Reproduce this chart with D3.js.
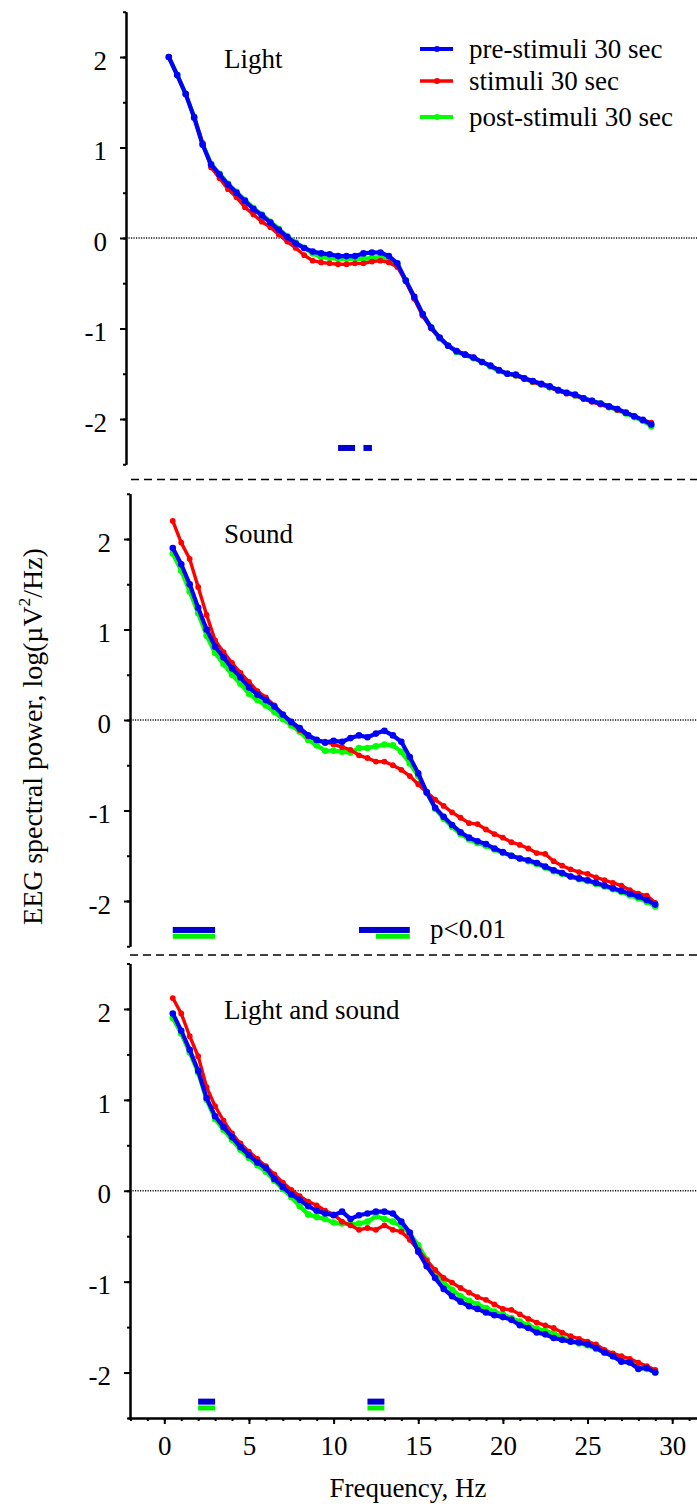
<!DOCTYPE html>
<html>
<head>
<meta charset="utf-8">
<script src="https://cdn.jsdelivr.net/npm/d3@7"></script>
<style>
body { margin: 0; background: #fff; }
svg { display: block; }
</style>
</head>
<body>
<svg id="chart" width="697" height="1504"></svg>
<script>
// frequency grid, Hz
const freqs = [0.5,1,1.5,2,2.5,3,3.5,4,4.5,5,5.5,6,6.5,7,7.5,8,8.5,9,9.5,10,
	10.5,11,11.5,12,12.5,13,13.5,14,14.5,15,15.5,16,16.5,17,17.5,18,18.5,19,19.5,20,
	20.5,21,21.5,22,22.5,23,23.5,24,24.5,25,25.5,26,26.5,27,27.5,28,28.5,29];

const seriesNames = ['pre-stimuli 30 sec', 'stimuli 30 sec', 'post-stimuli 30 sec'];
const panelTitles = ['Light', 'Sound', 'Light and sound'];

// log power, Light
const lightPre = [2.00,1.80,1.59,1.33,1.03,0.81,0.70,0.59,0.50,0.41,0.32,0.25,0.17,0.09,0.01,-0.06,-0.11,-0.15,-0.17,-0.18,
	-0.20,-0.20,-0.20,-0.17,-0.16,-0.16,-0.20,-0.28,-0.47,-0.65,-0.84,-0.99,-1.10,-1.19,-1.25,-1.29,-1.32,-1.37,-1.41,-1.46,
	-1.50,-1.51,-1.55,-1.58,-1.61,-1.64,-1.68,-1.71,-1.73,-1.77,-1.80,-1.83,-1.86,-1.89,-1.93,-1.97,-2.01,-2.06];
const lightStim = [2.00,1.80,1.59,1.34,1.05,0.78,0.66,0.54,0.45,0.34,0.26,0.18,0.12,0.04,-0.04,-0.11,-0.19,-0.25,-0.27,-0.28,
	-0.29,-0.29,-0.28,-0.28,-0.26,-0.25,-0.27,-0.32,-0.48,-0.67,-0.86,-1.00,-1.10,-1.19,-1.25,-1.28,-1.32,-1.37,-1.41,-1.46,
	-1.50,-1.52,-1.56,-1.59,-1.62,-1.65,-1.69,-1.72,-1.74,-1.78,-1.81,-1.84,-1.87,-1.90,-1.93,-1.97,-2.01,-2.04];
const lightPost = [2.00,1.80,1.59,1.34,1.04,0.82,0.71,0.60,0.51,0.42,0.33,0.26,0.18,0.10,0.02,-0.05,-0.11,-0.17,-0.21,-0.22,
	-0.23,-0.23,-0.23,-0.23,-0.22,-0.21,-0.23,-0.30,-0.47,-0.66,-0.85,-0.99,-1.11,-1.19,-1.26,-1.29,-1.33,-1.37,-1.42,-1.47,
	-1.50,-1.52,-1.55,-1.59,-1.62,-1.65,-1.68,-1.71,-1.74,-1.77,-1.80,-1.83,-1.87,-1.90,-1.94,-1.98,-2.02,-2.08];

// log power, Sound
const soundPre = [1.90,1.72,1.50,1.24,1.00,0.81,0.69,0.57,0.47,0.36,0.28,0.22,0.15,0.06,-0.02,-0.09,-0.17,-0.22,-0.25,-0.23,
	-0.24,-0.20,-0.17,-0.19,-0.15,-0.12,-0.17,-0.24,-0.41,-0.59,-0.80,-0.97,-1.07,-1.16,-1.24,-1.30,-1.34,-1.37,-1.42,-1.46,
	-1.50,-1.53,-1.55,-1.58,-1.62,-1.66,-1.69,-1.73,-1.75,-1.77,-1.80,-1.83,-1.86,-1.89,-1.92,-1.95,-1.99,-2.04];
const soundStim = [2.20,1.96,1.78,1.47,1.16,0.88,0.75,0.63,0.52,0.42,0.32,0.25,0.16,0.06,-0.03,-0.11,-0.18,-0.22,-0.24,-0.27,
	-0.30,-0.33,-0.39,-0.42,-0.46,-0.46,-0.50,-0.55,-0.62,-0.71,-0.80,-0.88,-0.95,-1.02,-1.08,-1.14,-1.15,-1.21,-1.26,-1.30,
	-1.35,-1.38,-1.42,-1.47,-1.48,-1.56,-1.61,-1.65,-1.68,-1.70,-1.74,-1.77,-1.80,-1.83,-1.88,-1.92,-1.94,-2.02];
const soundPost = [1.84,1.65,1.42,1.18,0.93,0.74,0.62,0.50,0.40,0.29,0.22,0.16,0.09,0.01,-0.06,-0.13,-0.22,-0.28,-0.34,-0.34,
	-0.35,-0.36,-0.31,-0.31,-0.29,-0.27,-0.28,-0.35,-0.48,-0.62,-0.80,-0.98,-1.09,-1.18,-1.26,-1.32,-1.36,-1.39,-1.43,-1.47,
	-1.50,-1.53,-1.56,-1.59,-1.63,-1.67,-1.70,-1.73,-1.76,-1.78,-1.81,-1.84,-1.87,-1.90,-1.94,-1.97,-2.01,-2.06];

// log power, Light and sound
const bothPre = [1.95,1.76,1.55,1.32,1.02,0.82,0.70,0.59,0.48,0.39,0.31,0.25,0.13,0.04,-0.04,-0.10,-0.17,-0.22,-0.25,-0.27,
	-0.23,-0.31,-0.27,-0.25,-0.23,-0.23,-0.25,-0.34,-0.46,-0.67,-0.83,-0.96,-1.08,-1.16,-1.22,-1.27,-1.30,-1.34,-1.37,-1.39,
	-1.42,-1.48,-1.51,-1.56,-1.58,-1.62,-1.64,-1.66,-1.67,-1.69,-1.73,-1.78,-1.82,-1.88,-1.89,-1.96,-1.95,-2.00];
const bothStim = [2.12,1.95,1.70,1.48,1.14,0.93,0.77,0.63,0.52,0.43,0.35,0.27,0.18,0.09,0.01,-0.06,-0.12,-0.16,-0.22,-0.26,
	-0.34,-0.38,-0.43,-0.41,-0.43,-0.38,-0.43,-0.45,-0.54,-0.65,-0.77,-0.87,-0.96,-1.01,-1.07,-1.12,-1.17,-1.20,-1.25,-1.30,
	-1.31,-1.36,-1.41,-1.45,-1.48,-1.51,-1.56,-1.60,-1.63,-1.66,-1.69,-1.75,-1.79,-1.82,-1.85,-1.89,-1.93,-1.97];
const bothPost = [1.90,1.73,1.52,1.30,1.00,0.79,0.67,0.56,0.45,0.36,0.28,0.21,0.11,0.02,-0.07,-0.17,-0.26,-0.29,-0.31,-0.35,
	-0.36,-0.37,-0.36,-0.34,-0.28,-0.31,-0.34,-0.39,-0.47,-0.60,-0.76,-0.90,-1.01,-1.09,-1.16,-1.21,-1.25,-1.29,-1.33,-1.36,
	-1.40,-1.44,-1.48,-1.52,-1.54,-1.57,-1.61,-1.65,-1.68,-1.70,-1.74,-1.78,-1.82,-1.86,-1.89,-1.93,-1.96,-2.00];

// p<0.01 frequency ranges, Hz
const lightSigPre = [[10.5, 11.5], [12, 12.5]];
const lightSigPost = [];
const soundSigPre = [[0.5, 3], [11.5, 14.5]];
const soundSigPost = [[0.5, 3], [12.5, 14.5]];
const bothSigPre = [[2, 3], [12, 13]];
const bothSigPost = [[2, 3], [12, 13]];

const yMajor = [-2, -1, 0, 1, 2];
const yMinor = [-2.5, -2, -1.5, -1, -0.5, 0, 0.5, 1, 1.5, 2, 2.5];
const xMajor = [0, 5, 10, 15, 20, 25, 30];
const xMinor = [-2,-1,0,1,2,3,4,5,6,7,8,9,10,11,12,13,14,15,16,17,18,19,20,21,22,23,24,25,26,27,28,29,30,31];

const FONT = '"Liberation Serif", "Times New Roman", serif';
const COLORS = ['#0000ff', '#ff0000', '#00ff00'];
const SIG_COLORS = ['#0000d0', '#00f000'];
const W = 697;

let svg;
let x;

function init() {
	svg = d3.select('#chart')
		.attr('font-family', FONT);
	svg.append('rect').attr('width', W).attr('height', 1504).attr('fill', '#fff');
	x = d3.scaleLinear().domain([0, 30]).range([164.3, 672.2]);

	let panels = [
		{ title: panelTitles[0], series: [lightPre, lightStim, lightPost], sig: [lightSigPre, lightSigPost],
			top: 11.75, bottom: 464.25, shift: -4, titleY: 68 },
		{ title: panelTitles[1], series: [soundPre, soundStim, soundPost], sig: [soundSigPre, soundSigPost],
			top: 493.75, bottom: 946.25, shift: 0, titleY: 543 },
		{ title: panelTitles[2], series: [bothPre, bothStim, bothPost], sig: [bothSigPre, bothSigPost],
			top: 963.5, bottom: 1418, shift: 0, titleY: 1019 },
	];
	panels.forEach(drawPanel);

	legend();
	separators();
	xAxis();
	yLabel();

	label(430, 938, 'p<0.01');
}

function label(px, py, str) {
	return svg.append('text')
		.attr('x', px).attr('y', py)
		.attr('font-family', FONT)
		.attr('font-size', 27)
		.attr('fill', '#000')
		.text(str);
}

// d3 axes put sans-serif 10px on the group, undo that
function styleAxis(sel) {
	sel.attr('font-family', FONT).attr('font-size', 27);
	sel.selectAll('path, line').attr('stroke', '#000').attr('stroke-width', 2);
	sel.selectAll('text').attr('fill', '#000');
}

function drawPanel(p) {
	let y = d3.scaleLinear().domain([-2.5, 2.5]).range([p.bottom, p.top]);
	let g = svg.append('g').attr('transform', `translate(${p.shift},0)`);
	let axisX = x(0) - 34.3;

	// zero line
	g.append('line')
		.attr('x1', axisX).attr('x2', W - p.shift)
		.attr('y1', y(0)).attr('y2', y(0))
		.attr('stroke', '#111').attr('stroke-width', 1.4)
		.attr('stroke-dasharray', '1.2 1.3');

	let minor = d3.axisLeft(y).tickValues(yMinor).tickSize(3).tickSizeOuter(0).tickFormat('');
	let major = d3.axisLeft(y).tickValues(yMajor).tickSize(6).tickSizeOuter(0).tickPadding(13)
		.tickFormat(d => String(d));
	g.append('g').attr('transform', `translate(${axisX},0)`).call(minor).call(styleAxis);
	let ga = g.append('g').attr('transform', `translate(${axisX},0)`).call(major).call(styleAxis);
	ga.selectAll('text').attr('dy', '0.45em');

	// significance bars
	let levels = [-2.32, -2.39];
	let heights = [6, 5];
	p.sig.forEach((ranges, k) => {
		g.selectAll(null)
			.data(ranges)
		.enter().append('rect')
			.attr('x', d => x(d[0]))
			.attr('width', d => x(d[1]) - x(d[0]))
			.attr('y', y(levels[k]) - heights[k] / 2)
			.attr('height', heights[k])
			.attr('fill', SIG_COLORS[k]);
	});

	// post first, pre on top
	let line = d3.line().x((d, i) => x(freqs[i])).y(d => y(d));
	[2, 1, 0].forEach(k => {
		let vals = p.series[k];
		g.append('path')
			.attr('d', line(vals))
			.attr('fill', 'none')
			.attr('stroke', COLORS[k])
			.attr('stroke-width', k === 1 ? 3.4 : 4.2)
			.attr('stroke-linejoin', 'round');
		g.selectAll(null)
			.data(vals)
		.enter().append('circle')
			.attr('cx', (d, i) => x(freqs[i]))
			.attr('cy', d => y(d))
			.attr('r', k === 1 ? 2.9 : 3.3)
			.attr('fill', COLORS[k]);
	});

	label(224, p.titleY, p.title);
}

function legend() {
	let rows = [49, 81, 117];
	let g = svg.append('g');
	seriesNames.forEach((name, k) => {
		g.append('line')
			.attr('x1', 420).attr('x2', 453)
			.attr('y1', rows[k]).attr('y2', rows[k])
			.attr('stroke', COLORS[k]).attr('stroke-width', k === 1 ? 3.4 : 4.2);
		g.append('circle')
			.attr('cx', 437).attr('cy', rows[k]).attr('r', 3)
			.attr('fill', COLORS[k]);
		label(469, rows[k] + 9, name);
	});
}

function separators() {
	[[131, 479.5], [130, 955]].forEach(s => {
		svg.append('line')
			.attr('x1', s[0]).attr('x2', W)
			.attr('y1', s[1]).attr('y2', s[1])
			.attr('stroke', '#000').attr('stroke-width', 1.6)
			.attr('stroke-dasharray', '8 5');
	});
}

function xAxis() {
	let xa = x.copy().domain([-2.15, 31.45]).range([x(-2.15), x(31.45)]);
	let minor = d3.axisBottom(xa).tickValues(xMinor).tickSize(3).tickSizeOuter(0).tickFormat('');
	let major = d3.axisBottom(xa).tickValues(xMajor).tickSize(6).tickSizeOuter(0).tickPadding(12)
		.tickFormat(d => String(d));
	svg.append('g').attr('transform', 'translate(0,1418)').call(minor).call(styleAxis);
	svg.append('g').attr('transform', 'translate(0,1418)').call(major).call(styleAxis);

	label(408, 1497, 'Frequency, Hz').attr('text-anchor', 'middle');
}

function yLabel() {
	let t = svg.append('text')
		.attr('text-anchor', 'middle')
		.attr('font-family', FONT)
		.attr('font-size', 27);
	t.append('tspan').text('EEG spectral power, log(\u00b5V');
	t.append('tspan').attr('font-size', 17).attr('dy', -12).text('2');
	t.append('tspan').attr('dy', 12).text('/Hz)');
	let len = t.node().getComputedTextLength();
	let s = 377 / len;
	t.attr('transform', `translate(41.5,736.5) scale(1,${s}) rotate(-90)`);
}

init();
</script>
</body>
</html>
